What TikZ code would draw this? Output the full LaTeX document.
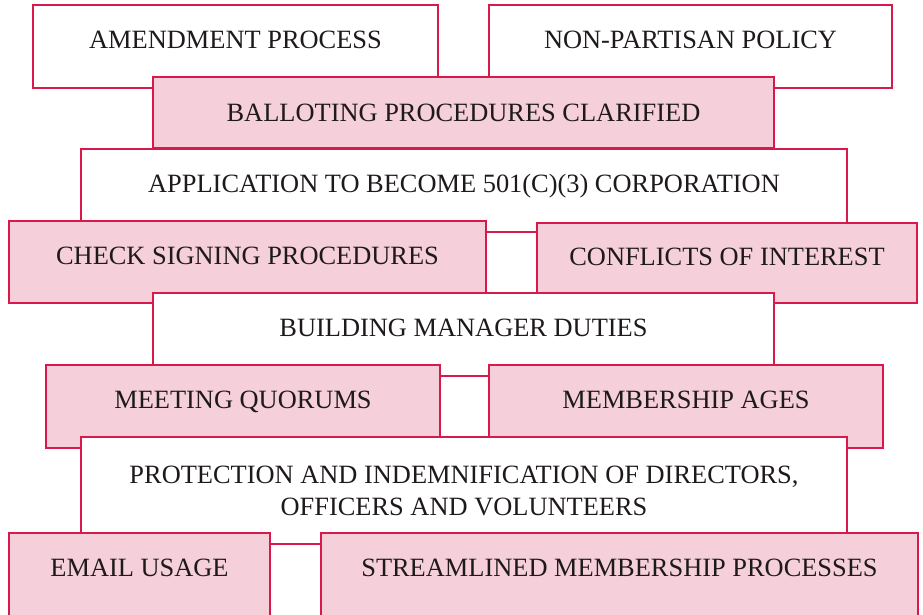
\documentclass[tikz,border=0pt]{standalone}
\usepackage{fontspec}
\setmainfont{Liberation Serif}
\usepackage{tikz}

\definecolor{boxred}{HTML}{D7194B}
\definecolor{boxpink}{HTML}{F5CFDA}
\definecolor{inkc}{HTML}{1E1A1B}

\tikzset{
  box/.style={draw=boxred, line width=1.9pt, rectangle, inner sep=0pt,
    text=inkc, font=\fontsize{19.8}{24}\selectfont,
    text height=13.1pt, text depth=9.5pt},
  whitebox/.style={box, fill=white},
  pinkbox/.style={box, fill=boxpink},
}

\begin{document}
\begin{tikzpicture}[x=0.75pt,y=-0.75pt]
  \useasboundingbox (0,0) rectangle (923,614);
  %first row
  \node[whitebox, minimum width=303.75pt, minimum height=62.25pt] (amend) at (235.5,46.5) {AMENDMENT PROCESS};
  \node[whitebox, minimum width=302.25pt, minimum height=62.25pt] (partisan) at (690.5,46.5) {NON-PARTISAN POLICY};
  \node[pinkbox, minimum width=465.75pt, minimum height=53.25pt, text depth=0pt] (ballot) at (463.5,112.5) {BALLOTING PROCEDURES CLARIFIED};
  \node[whitebox, minimum width=574.5pt, minimum height=62.25pt] (corp) at (464,190.5) {APPLICATION TO BECOME 501(C)(3) CORPORATION};
  %second block
  \node[pinkbox, minimum width=357.75pt, minimum height=61.5pt] (check) at (247.5,262) {CHECK SIGNING PROCEDURES};
  \node[pinkbox, minimum width=285pt, minimum height=60pt] (conflict) at (727,263) {CONFLICTS OF INTEREST};
  \node[whitebox, minimum width=465.75pt, minimum height=62.25pt] (manager) at (463.5,334.5) {BUILDING MANAGER DUTIES};
  \node[pinkbox, minimum width=295.5pt, minimum height=62.25pt] (quorum) at (243,406.5) {MEETING QUORUMS};
  \node[pinkbox, minimum width=295.5pt, minimum height=62.25pt] (ages) at (686,406.5) {MEMBERSHIP AGES};
  %last block
  \node[draw=boxred, line width=1.9pt, fill=white, inner sep=0pt, text=inkc,
        font=\fontsize{19.8}{24}\selectfont, align=center,
        minimum width=574.5pt, minimum height=80.25pt] (protect) at (464,490.5)
        {PROTECTION AND INDEMNIFICATION OF DIRECTORS,\\OFFICERS AND VOLUNTEERS};
  \node[pinkbox, minimum width=195.75pt, minimum height=62.25pt] (email) at (139.5,574.5) {EMAIL USAGE};
  \node[pinkbox, minimum width=447.75pt, minimum height=62.25pt] (stream) at (619.5,574.5) {STREAMLINED MEMBERSHIP PROCESSES};
\end{tikzpicture}
\end{document}
